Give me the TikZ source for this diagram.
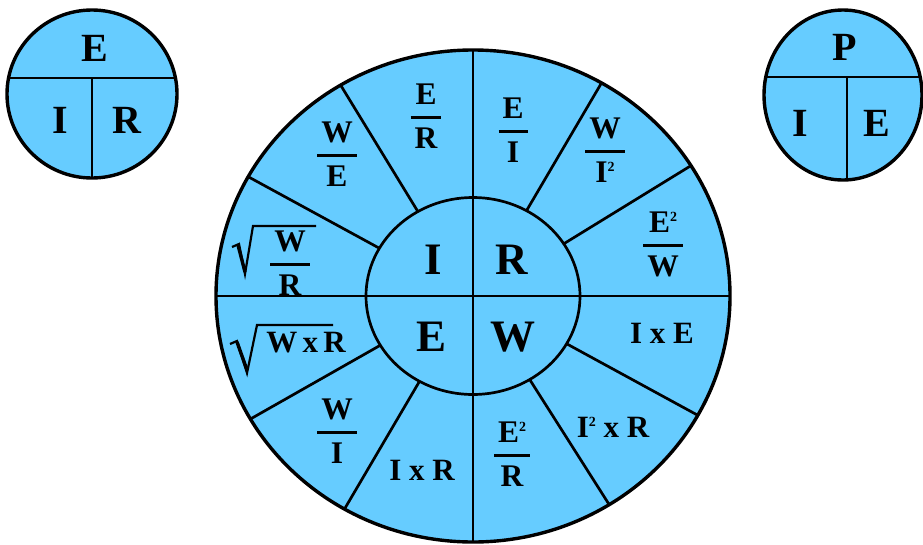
\RequirePackage{fix-cm}
\documentclass[tikz,border=0pt]{standalone}
\usepackage{fontspec}
\setmainfont{Liberation Serif}
\usetikzlibrary{calc}
\definecolor{chartblue}{RGB}{102,204,255}
\newcommand\frm[2]{{\hbox{\kern4pt#1\kern4pt}\above2.8pt\hbox{\kern4pt#2\kern4pt}}}
\newcommand\fr[2]{$\displaystyle\frm{#1}{#2}$}
\newcommand\sqd{\raisebox{0.33em}{\fontsize{14}{14}\selectfont 2}}
\tikzset{
  wheelline/.style={line width=2.7pt},
  border/.style={line width=3.4pt},
  radical/.style={line width=2.2pt, line join=miter},
  big/.style={inner sep=0pt, font=\fontsize{45}{45}\selectfont\bfseries},
  mid/.style={inner sep=0pt, font=\fontsize{40}{40}\selectfont\bfseries},
  frac/.style={inner sep=0pt, font=\fontsize{31.5}{31.5}\selectfont\bfseries},
  prod/.style={inner sep=0pt, font=\fontsize{31}{31}\selectfont\bfseries}
}
\begin{document}
\begin{tikzpicture}[x=1pt,y=-1pt,line join=round]
\useasboundingbox (0,0) rectangle (923,544);
% ---------- big wheel ----------
\coordinate (c) at (473,296);
\fill[chartblue] (c) ellipse [x radius=257, y radius=246];
\begin{scope}
  \clip (c) ellipse [x radius=257, y radius=246];
  \draw[wheelline] ($(c)+(-300,0)$) -- ($(c)+(300,0)$);
  \draw[wheelline] ($(c)+(0,-300)$) -- ($(c)+(0,300)$);
\end{scope}
\foreach \a in {-32,-60,-121,-151,-210,-240,29,58}
  \draw[wheelline] ($(c)+(\a:107 and 98.5)$) -- ($(c)+(\a:257 and 246)$);
\draw[wheelline] (c) ellipse [x radius=107, y radius=98.5];
\draw[border] (c) ellipse [x radius=257, y radius=246];
% inner letters
\node[big] (ci) at (433,260) {I};
\node[big] (cr) at (512,260) {R};
\node[big] (ce) at (432,337) {E};
\node[big] (cw) at (513,337) {W};
% outer ring
\node[frac] (er) at (426,116) {\fr{E}{R}};
\node[frac] (we) at (337,154) {\fr{W}{E}};
\node[frac] (wr) at (290,263) {\fr{W}{R}};
\draw[radical] ($(wr.center)+(-58,-16)$) -- ($(wr.center)+(-51,-19)$)
  -- ($(wr.center)+(-45,11)$) -- ($(wr.center)+(-37,-37)$) -- ($(wr.center)+(26,-37)$);
\draw[line width=3.4pt] ($(wr.center)+(-52,-18)$) -- ($(wr.center)+(-45,9)$);
\node[frac] (ei) at (513,130) {\fr{E}{I}};
\node[frac] (wi2) at (605,150) {\fr{W}{I\sqd}};
\node[frac] (e2w) at (663,244) {\fr{E\sqd}{W}};
\node[prod] (wxr) at (306,343) {W\hspace{0.17em}x\hspace{0.17em}R};
\draw[radical] ($(wxr.center)+(-76,1)$) -- ($(wxr.center)+(-69,-2)$)
  -- ($(wxr.center)+(-59,30)$) -- ($(wxr.center)+(-49,-18)$) -- ($(wxr.center)+(27,-18)$);
\draw[line width=3.4pt] ($(wxr.center)+(-69,-1)$) -- ($(wxr.center)+(-59,27)$);
\node[frac] (wi) at (337,431) {\fr{W}{I}};
\node[prod] (ixr) at (422,470) {I x R};
\node[frac] (e2r) at (512,454) {\fr{E\sqd}{R}};
\node[prod] (i2xr) at (613,427) {I\sqd{} x R};
\node[prod] (ixe) at (662,333) {I x E};
% ---------- left small circle ----------
\coordinate (lc) at (92,94);
\fill[chartblue] (lc) ellipse [x radius=85, y radius=84];
\begin{scope}
  \clip (lc) ellipse [x radius=85, y radius=84];
  \draw[wheelline] (0,78) -- (200,78);
  \draw[wheelline] (92,78) -- (92,200);
\end{scope}
\draw[border] (lc) ellipse [x radius=85, y radius=84];
\node[mid] (le) at (95,48) {E};
\node[mid] (li) at (60,120) {I};
\node[mid] (lr) at (127,120) {R};
% ---------- right small circle ----------
\coordinate (rc) at (843,95);
\fill[chartblue] (rc) ellipse [x radius=79, y radius=85];
\begin{scope}
  \clip (rc) ellipse [x radius=79, y radius=85];
  \draw[wheelline] (740,77) -- (940,77);
  \draw[wheelline] (847,77) -- (847,200);
\end{scope}
\draw[border] (rc) ellipse [x radius=79, y radius=85];
\node[mid] (rp) at (845,47) {P};
\node[mid] (ri) at (800,123) {I};
\node[mid] (rE) at (877,123) {E};
\end{tikzpicture}
\end{document}
